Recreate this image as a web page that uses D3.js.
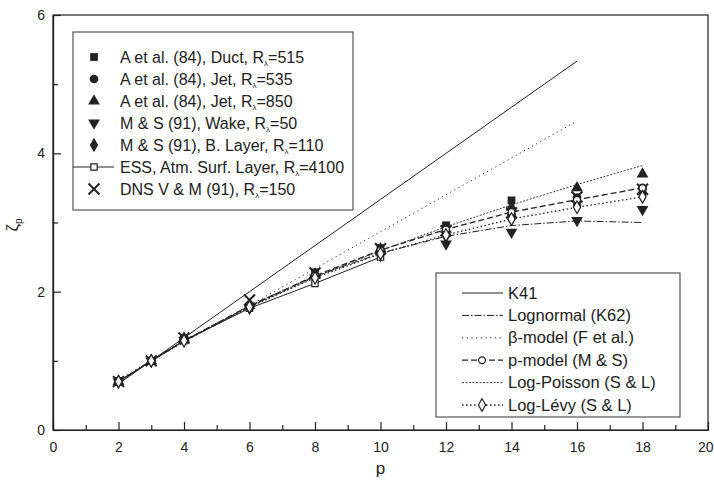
<!DOCTYPE html>
<meta charset="utf-8">
<html>
  <head>
    <script src="https://cdn.jsdelivr.net/npm/d3@7"></script>
    <style>
      body { margin: 0; background: white; }
      text { font-family: "Liberation Sans", Arial, sans-serif; fill: #222; }
    </style>
  </head>
  <body>
    <svg id="chart" width="714" height="482"></svg>
    <script>
      const pAll = [2, 3, 4, 6, 8, 10, 12, 14, 16, 18];
      const ductVals = [0.71, 1.00, 1.33, 1.79, 2.28, 2.63, 2.96, 3.32, 3.30, 3.48];
      const jet535Vals = [0.70, 1.00, 1.32, 1.78, 2.22, 2.58, 2.86, 3.12, 3.36, 3.50];
      const jet850Vals = [0.70, 1.00, 1.33, 1.80, 2.25, 2.62, 2.90, 3.22, 3.50, 3.70];
      const wakeVals = [0.70, 1.00, 1.30, 1.76, 2.20, 2.52, 2.69, 2.86, 3.03, 3.19];
      const bLayerVals = [0.70, 1.00, 1.31, 1.77, 2.21, 2.56, 2.80, 3.05, 3.24, 3.40];
      const essP = [2, 3, 4, 6, 8, 10];
      const essVals = [0.70, 1.00, 1.29, 1.76, 2.12, 2.50];
      const dnsVals = [0.70, 1.00, 1.33, 1.88, 2.27, 2.62, 2.88, 3.14, 3.37, 3.48];

      // model curves
      const pShort = [2, 3, 4, 6, 8, 10, 12, 14, 16];
      const k41Vals = [0.667, 1.000, 1.333, 2.000, 2.667, 3.333, 4.000, 4.667, 5.333];
      const betaVals = [0.733, 1.000, 1.267, 1.800, 2.333, 2.867, 3.400, 3.933, 4.467];
      const lognormVals = [0.689, 1.000, 1.289, 1.800, 2.222, 2.556, 2.800, 2.956, 3.022, 3.000];
      const pModelVals = [0.70, 1.00, 1.29, 1.79, 2.23, 2.60, 2.90, 3.15, 3.33, 3.50];
      const logPoissonVals = [0.696, 1.000, 1.280, 1.778, 2.211, 2.593, 2.938, 3.255, 3.548, 3.824];
      const logLevyVals = [0.70, 1.00, 1.29, 1.78, 2.20, 2.55, 2.82, 3.05, 3.22, 3.37];

      const xTicks = [0, 2, 4, 6, 8, 10, 12, 14, 16, 18, 20];
      const yTicks = [0, 2, 4, 6];

      const svg = d3.select("#chart");
      const x = d3.scaleLinear([0, 20], [53, 708]);
      const y = d3.scaleLinear([0, 6], [430, 15]);
      const ink = "#222";

      const zip = (ps, vs) => ps.map((p, i) => ({p: p, v: vs[i]}));

      // frame
      svg.append("rect")
        .attr("x", x(0)).attr("y", y(6))
        .attr("width", x(20) - x(0)).attr("height", y(0) - y(6))
        .attr("fill", "none").attr("stroke", ink).attr("stroke-width", 1.2);

      // axes with inward ticks
      svg.append("g").attr("transform", `translate(0,${y(0)})`)
        .call(d3.axisBottom(x).tickValues(xTicks).tickSize(-8).tickPadding(12).tickSizeOuter(0).tickFormat(d3.format("d")));
      svg.append("g").attr("transform", `translate(0,${y(0)})`)
        .call(d3.axisBottom(x).tickValues(d3.range(1, 20, 2)).tickSize(-5).tickFormat("").tickSizeOuter(0));
      svg.append("g").attr("transform", `translate(${x(0)},0)`)
        .call(d3.axisLeft(y).tickValues(yTicks).tickSize(-8).tickPadding(8).tickSizeOuter(0).tickFormat(d3.format("d")));
      svg.append("g").attr("transform", `translate(${x(0)},0)`)
        .call(d3.axisLeft(y).tickValues([1, 3, 5]).tickSize(-5).tickFormat("").tickSizeOuter(0));
      svg.selectAll(".domain").attr("stroke", ink).attr("stroke-width", 1.2);
      svg.selectAll(".tick line").attr("stroke", ink).attr("stroke-width", 1.2);
      svg.selectAll(".tick text").attr("font-size", 14).attr("fill", ink)
        .attr("font-family", "Liberation Sans, Arial, sans-serif");
      // keep the last x label inside the window
      svg.selectAll(".tick text").filter(d => d === 20).attr("text-anchor", "end").attr("dx", 5);

      // axis titles
      svg.append("text").attr("x", x(10)).attr("y", 474).attr("text-anchor", "middle")
        .attr("font-size", 17).text("p");
      const yt = svg.append("text").attr("transform", "translate(18,225) rotate(-90)")
        .attr("text-anchor", "middle").attr("font-size", 17);
      yt.append("tspan").text("ζ");
      yt.append("tspan").attr("font-size", 10).attr("dy", 4).text("p");

      // model lines
      const line = d3.line().x(d => x(d.p)).y(d => y(d.v));
      const models = [
        {name: "K41", ps: pShort, vs: k41Vals, dash: null, w: 1},
        {name: "Lognormal (K62)", ps: pAll, vs: lognormVals, dash: "7,2,1.5,2", w: 1},
        {name: "β-model (F et al.)", ps: pShort, vs: betaVals, dash: "1.2,3.5", w: 1},
        {name: "p-model (M & S)", ps: pAll, vs: pModelVals, dash: "6,3", w: 1.3, mark: "circle"},
        {name: "Log-Poisson (S & L)", ps: pAll, vs: logPoissonVals, dash: "2,1.5", w: 0.9},
        {name: "Log-Lévy (S & L)", ps: pAll, vs: logLevyVals, dash: "1.5,2.5", w: 1.3, mark: "diamond"}
      ];
      models.forEach(m => {
        svg.append("path").datum(zip(m.ps, m.vs))
          .attr("d", line).attr("fill", "none").attr("stroke", ink)
          .attr("stroke-width", m.w).attr("stroke-dasharray", m.dash);
      });

      // ESS line
      svg.append("path").datum(zip(essP, essVals)).attr("d", line)
        .attr("fill", "none").attr("stroke", ink).attr("stroke-width", 1);

      const sym = {
        square: d3.symbol(d3.symbolSquare, 60),
        circle: d3.symbol(d3.symbolCircle, 60),
        up: d3.symbol(d3.symbolTriangle, 60),
        diamond: d3.symbol(d3.symbolDiamond, 60),
        openSq: d3.symbol(d3.symbolSquare, 40),
        openCircle: d3.symbol(d3.symbolCircle, 36),
        openDiamond: d3.symbol(d3.symbolDiamond, 45),
        cross: d3.symbol(d3.symbolTimes, 80)
      };

      function drawMarker(g, kind, cx, cy) {
        if (kind === "down") {
          g.append("path").attr("d", sym.up())
            .attr("transform", `translate(${cx},${cy}) rotate(180)`).attr("fill", ink);
        } else if (kind === "cross") {
          g.append("path").attr("d", sym.cross()).attr("transform", `translate(${cx},${cy})`)
            .attr("fill", "none").attr("stroke", ink).attr("stroke-width", 2);
        } else if (kind.startsWith("open")) {
          g.append("path").attr("d", sym[kind]()).attr("transform", `translate(${cx},${cy})`)
            .attr("fill", "white").attr("stroke", ink).attr("stroke-width", 1.2);
        } else {
          g.append("path").attr("d", sym[kind]()).attr("transform", `translate(${cx},${cy})`)
            .attr("fill", ink);
        }
      }

      const dataSets = [
        {pre: "A et al. (84), Duct, R", post: "=515", ps: pAll, vs: ductVals, kind: "square"},
        {pre: "A et al. (84), Jet, R", post: "=535", ps: pAll, vs: jet535Vals, kind: "circle"},
        {pre: "A et al. (84), Jet, R", post: "=850", ps: pAll, vs: jet850Vals, kind: "up"},
        {pre: "M & S (91), Wake, R", post: "=50", ps: pAll, vs: wakeVals, kind: "down"},
        {pre: "M & S (91), B. Layer, R", post: "=110", ps: pAll, vs: bLayerVals, kind: "diamond"},
        {pre: "ESS, Atm. Surf. Layer, R", post: "=4100", ps: essP, vs: essVals, kind: "openSq", line: true},
        {pre: "DNS V & M (91), R", post: "=150", ps: pAll, vs: dnsVals, kind: "cross"}
      ];

      const pts = svg.append("g");
      dataSets.forEach(s => {
        zip(s.ps, s.vs).forEach(d => drawMarker(pts, s.kind, x(d.p), y(d.v)));
      });
      models.filter(m => m.mark).forEach(m => {
        const kind = m.mark === "circle" ? "openCircle" : "openDiamond";
        zip(m.ps, m.vs).forEach(d => drawMarker(pts, kind, x(d.p), y(d.v)));
      });

      // legend 1: data sets
      const lg1 = svg.append("g");
      lg1.append("rect").attr("x", 73).attr("y", 32).attr("width", 280).attr("height", 178)
        .attr("fill", "white").attr("stroke", "#555").attr("stroke-width", 1.2);
      dataSets.forEach((s, i) => {
        const ry = 57 + i * 22;
        if (s.line) {
          lg1.append("line").attr("x1", 73).attr("x2", 114).attr("y1", ry).attr("y2", ry)
            .attr("stroke", ink).attr("stroke-width", 1);
        }
        drawMarker(lg1, s.kind, 94, ry);
        const t = lg1.append("text").attr("x", 120).attr("y", ry + 5.5).attr("font-size", 16);
        t.append("tspan").text(s.pre);
        t.append("tspan").attr("font-size", 8).attr("dy", 3).text("λ");
        t.append("tspan").attr("dy", -3).text(s.post);
      });

      // legend 2: models
      const lg2 = svg.append("g");
      lg2.append("rect").attr("x", 436).attr("y", 273).attr("width", 244).attr("height", 144)
        .attr("fill", "white").attr("stroke", "#555").attr("stroke-width", 1.2);
      models.forEach((m, i) => {
        const ry = 293 + i * 22.4;
        lg2.append("line").attr("x1", 462).attr("x2", 503).attr("y1", ry).attr("y2", ry)
          .attr("stroke", ink).attr("stroke-width", m.w).attr("stroke-dasharray", m.dash);
        if (m.mark) drawMarker(lg2, m.mark === "circle" ? "openCircle" : "openDiamond", 482, ry);
        lg2.append("text").attr("x", 508).attr("y", ry + 5.5).attr("font-size", 16.5).text(m.name);
      });
    </script>
  </body>
</html>
